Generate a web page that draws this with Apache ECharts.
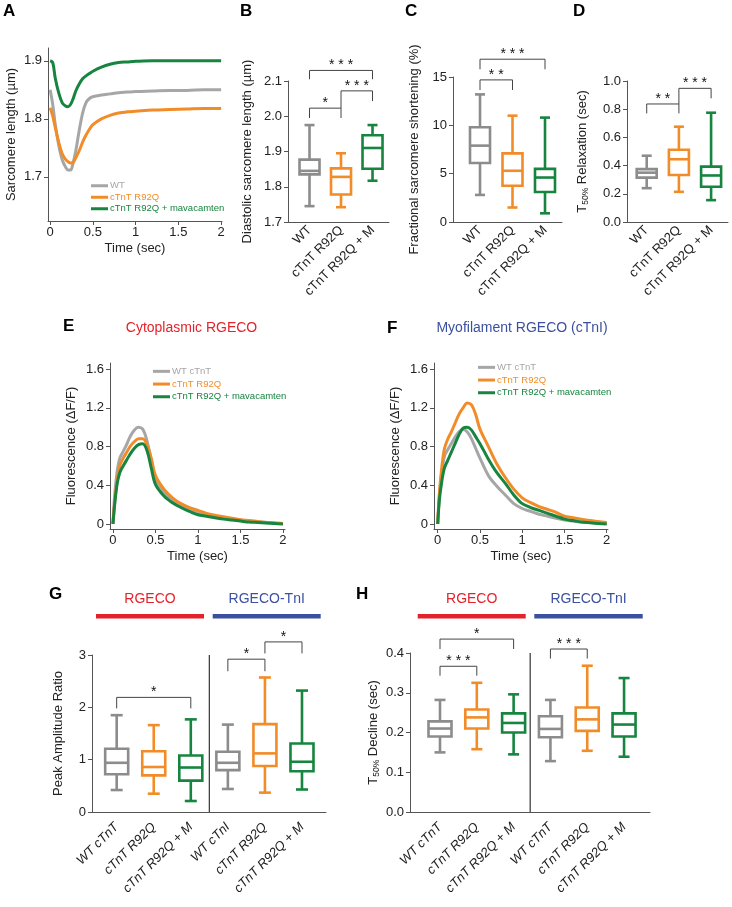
<!DOCTYPE html>
<html><head><meta charset="utf-8">
<script src="https://cdn.jsdelivr.net/npm/echarts@6/dist/echarts.min.js"></script>
<style>html,body{margin:0;padding:0;background:#fff}#c{width:732px;height:907px}</style>
</head><body><div id="c"></div>
<script>
// ================= DATA =================
// Panel A: sarcomere length transients (µm) vs time (sec)
const timeA = [0, 0.03, 0.06, 0.1, 0.14, 0.18, 0.21, 0.24, 0.27, 0.3, 0.34, 0.38, 0.42, 0.46, 0.5, 0.6, 0.7, 0.8, 0.9, 1.0, 1.2, 1.4, 1.6, 1.8, 2.0];
const slWT    = [1.85, 1.825, 1.79, 1.755, 1.73, 1.717, 1.712, 1.712, 1.725, 1.745, 1.78, 1.81, 1.828, 1.835, 1.838, 1.841, 1.843, 1.845, 1.846, 1.847, 1.848, 1.849, 1.849, 1.85, 1.85];
const slR92Q  = [1.819, 1.805, 1.785, 1.76, 1.74, 1.73, 1.726, 1.724, 1.725, 1.733, 1.745, 1.76, 1.772, 1.782, 1.79, 1.8, 1.806, 1.81, 1.812, 1.813, 1.815, 1.816, 1.817, 1.818, 1.818];
const slMava  = [1.9, 1.897, 1.87, 1.845, 1.828, 1.822, 1.821, 1.825, 1.835, 1.848, 1.86, 1.869, 1.874, 1.878, 1.882, 1.889, 1.894, 1.897, 1.898, 1.899, 1.9, 1.9, 1.9, 1.9, 1.9];
const legendA = ['WT', 'cTnT R92Q', 'cTnT R92Q + mavacamten'];

// Panels B-D: box stats [min, Q1, median, Q3, max]
const boxCats = ['WT', 'cTnT R92Q', 'cTnT R92Q + M'];
const diastolicSL = [[1.745, 1.835, 1.845, 1.877, 1.975], [1.742, 1.778, 1.828, 1.852, 1.895], [1.817, 1.851, 1.91, 1.946, 1.975]];
const fracShortening = [[2.8, 6.1, 7.9, 9.8, 13.2], [1.5, 3.75, 5.3, 7.1, 11.0], [0.9, 3.1, 4.6, 5.5, 10.8]];
const t50Relaxation = [[0.24, 0.315, 0.35, 0.375, 0.47], [0.214, 0.333, 0.445, 0.512, 0.676], [0.155, 0.25, 0.33, 0.393, 0.775]];
const sigB = [['*', 0, 1], ['***', 1, 2], ['***', 0, 2]];
const sigC = [['**', 0, 1], ['***', 0, 2]];
const sigD = [['**', 0, 1], ['***', 1, 2]];

// Panels E-F: fluorescence transients (ΔF/F) vs time (sec)
const timeEF = [0, 0.02, 0.05, 0.08, 0.12, 0.16, 0.2, 0.25, 0.3, 0.35, 0.4, 0.45, 0.5, 0.6, 0.7, 0.8, 0.9, 1.0, 1.1, 1.2, 1.3, 1.4, 1.5, 1.6, 1.7, 1.8, 1.9, 2.0];
const cytoWT   = [0, 0.3, 0.55, 0.68, 0.75, 0.82, 0.9, 0.97, 1.0, 0.98, 0.86, 0.66, 0.47, 0.33, 0.25, 0.19, 0.15, 0.12, 0.1, 0.08, 0.065, 0.05, 0.04, 0.03, 0.025, 0.018, 0.01, 0.005];
const cytoR92Q = [0, 0.22, 0.45, 0.6, 0.68, 0.74, 0.8, 0.85, 0.88, 0.88, 0.82, 0.68, 0.5, 0.36, 0.27, 0.21, 0.17, 0.14, 0.11, 0.09, 0.075, 0.06, 0.045, 0.035, 0.025, 0.015, 0.01, 0.005];
const cytoMava = [0, 0.2, 0.42, 0.53, 0.6, 0.66, 0.72, 0.78, 0.82, 0.83, 0.76, 0.58, 0.41, 0.29, 0.22, 0.17, 0.13, 0.095, 0.08, 0.065, 0.05, 0.04, 0.03, 0.02, 0.015, 0.01, 0.005, 0.0];
const myoWT    = [0, 0.3, 0.55, 0.7, 0.77, 0.83, 0.89, 0.95, 0.98, 0.95, 0.88, 0.78, 0.68, 0.5, 0.39, 0.3, 0.21, 0.16, 0.13, 0.1, 0.08, 0.06, 0.04, 0.03, 0.02, 0.015, 0.01, 0.005];
const myoR92Q  = [0, 0.32, 0.6, 0.78, 0.88, 0.95, 1.03, 1.13, 1.2, 1.25, 1.23, 1.13, 0.98, 0.8, 0.62, 0.48, 0.36, 0.27, 0.22, 0.18, 0.15, 0.12, 0.08, 0.065, 0.05, 0.035, 0.025, 0.015];
const myoMava  = [0, 0.25, 0.45, 0.58, 0.66, 0.74, 0.82, 0.92, 0.99, 1.0, 0.97, 0.9, 0.83, 0.67, 0.53, 0.42, 0.3, 0.21, 0.17, 0.14, 0.11, 0.08, 0.05, 0.035, 0.02, 0.012, 0.005, 0.0];
const legendEF = ['WT cTnT', 'cTnT R92Q', 'cTnT R92Q + mavacamten'];

// Panels G-H
const catsG = ['WT cTnT', 'cTnT R92Q', 'cTnT R92Q + M', 'WT cTnI', 'cTnT R92Q', 'cTnT R92Q + M'];
const catsH = ['WT cTnT', 'cTnT R92Q', 'cTnT R92Q + M', 'WT cTnT', 'cTnT R92Q', 'cTnT R92Q + M'];
const peakAmpRatio = [[0.42, 0.72, 0.94, 1.21, 1.85], [0.35, 0.70, 0.86, 1.16, 1.66], [0.21, 0.60, 0.85, 1.08, 1.77],
                      [0.44, 0.80, 0.94, 1.15, 1.67], [0.37, 0.88, 1.12, 1.68, 2.57], [0.43, 0.78, 0.96, 1.31, 2.32]];
const t50Decline = [[0.15, 0.19, 0.21, 0.228, 0.282], [0.158, 0.21, 0.238, 0.258, 0.325], [0.145, 0.2, 0.224, 0.248, 0.296],
                    [0.128, 0.188, 0.209, 0.241, 0.282], [0.154, 0.204, 0.233, 0.263, 0.368], [0.139, 0.19, 0.22, 0.248, 0.337]];
const sigG = [['*', 0, 2], ['*', 3, 4], ['*', 4, 5]];
const sigH = [['***', 0, 1], ['*', 0, 2], ['***', 3, 4]];
const groupLabels = ['RGECO', 'RGECO-TnI'];

// ================= STYLE / LAYOUT =================
const FONT = '"Liberation Sans", Arial, Helvetica, sans-serif';
const LGRAY = '#a6a6a6', BGRAY = '#8c8c8c', ORANGE = '#f28c28', GREEN = '#17843f';
const RED = '#e3232b', BLUE = '#3b50a0', AX = '#555', TXT = '#222';
const FS = 13;
const box3 = [BGRAY, ORANGE, GREEN];
const box6 = [BGRAY, ORANGE, GREEN, BGRAY, ORANGE, GREEN];

const grids = [
  {left: 48, top: 48, width: 174, height: 173},   // A
  {left: 288, top: 81, width: 101, height: 141},  // B
  {left: 453, top: 77, width: 109, height: 145},  // C
  {left: 627, top: 81, width: 101, height: 141},  // D
  {left: 110, top: 363, width: 175, height: 166}, // E
  {left: 434, top: 363, width: 174, height: 166}, // F
  {left: 92, top: 655, width: 234, height: 157},  // G
  {left: 410, top: 653, width: 240, height: 159}  // H
];

function lbl(extra) { return Object.assign({color: TXT, fontSize: FS, fontFamily: FONT, margin: 6}, extra); }
function axisBase(extra) {
  return Object.assign({
    type: 'value',
    splitLine: {show: false},
    axisLine: {show: true, onZero: false, lineStyle: {color: AX, width: 1}},
    axisTick: {show: true, inside: false, length: 4, lineStyle: {color: AX}},
    axisLabel: lbl({}),
    nameTextStyle: {color: TXT, fontSize: FS, fontFamily: FONT},
    nameLocation: 'middle'
  }, extra);
}
function fmtNum(v) { return v === 0 ? '0' : String(v); }
function tick(vals) { return {show: true, length: 4, customValues: vals, lineStyle: {color: AX}}; }

const timeTicks = [0, 0.5, 1, 1.5, 2];
const xAxes = [
  axisBase({gridIndex: 0, min: -0.025, max: 2.01, axisTick: tick(timeTicks), axisLabel: lbl({customValues: timeTicks, formatter: fmtNum, margin: 5}), name: 'Time (sec)', nameGap: 21}),
  axisBase({gridIndex: 1, min: -0.683, max: 2.523, axisTick: {show: false}, axisLabel: lbl({customValues: [0, 1, 2], formatter: v => boxCats[Math.round(v)], rotate: 45})}),
  axisBase({gridIndex: 2, min: -0.831, max: 2.523, axisTick: {show: false}, axisLabel: lbl({customValues: [0, 1, 2], formatter: v => boxCats[Math.round(v)], rotate: 45})}),
  axisBase({gridIndex: 3, min: -0.612, max: 2.525, axisTick: {show: false}, axisLabel: lbl({customValues: [0, 1, 2], formatter: v => boxCats[Math.round(v)], rotate: 45})}),
  axisBase({gridIndex: 4, min: -0.035, max: 2.024, axisTick: tick(timeTicks), axisLabel: lbl({customValues: timeTicks, formatter: fmtNum, margin: 5}), name: 'Time (sec)', nameGap: 21}),
  axisBase({gridIndex: 5, min: -0.044, max: 2.015, axisTick: tick(timeTicks), axisLabel: lbl({customValues: timeTicks, formatter: fmtNum, margin: 5}), name: 'Time (sec)', nameGap: 21}),
  axisBase({gridIndex: 6, min: -0.666, max: 5.648, axisTick: {show: false}, axisLabel: lbl({customValues: [0, 1, 2, 3, 4, 5], formatter: v => catsG[Math.round(v)], rotate: 45, fontStyle: 'italic', margin: 13})}),
  axisBase({gridIndex: 7, min: -0.815, max: 5.705, axisTick: {show: false}, axisLabel: lbl({customValues: [0, 1, 2, 3, 4, 5], formatter: v => catsH[Math.round(v)], rotate: 45, fontStyle: 'italic', margin: 13})})
];

const subRich = {s: {fontSize: 8.5, fontFamily: FONT, color: TXT, padding: [0, 0, -6, 0]}};
const efTicks = [0, 0.4, 0.8, 1.2, 1.6];
const yAxes = [
  axisBase({gridIndex: 0, min: 1.624, max: 1.922, axisTick: tick([1.7, 1.8, 1.9]), axisLabel: lbl({customValues: [1.7, 1.8, 1.9], formatter: v => v.toFixed(1)}), name: 'Sarcomere length (µm)', nameGap: 30}),
  axisBase({gridIndex: 1, min: 1.7, max: 2.1, interval: 0.1, axisLabel: lbl({formatter: v => v.toFixed(1)}), name: 'Diastolic sarcomere length (µm)', nameGap: 34}),
  axisBase({gridIndex: 2, min: 0, max: 15, interval: 5, name: 'Fractional sarcomere shortening (%)', nameGap: 32}),
  axisBase({gridIndex: 3, min: 0, max: 1.0, interval: 0.2, axisLabel: lbl({formatter: v => v.toFixed(1)}), name: 'T{s|50%} Relaxation (sec)', nameGap: 38, nameTextStyle: {color: TXT, fontSize: FS, fontFamily: FONT, rich: subRich}}),
  axisBase({gridIndex: 4, min: -0.052, max: 1.664, axisTick: tick(efTicks), axisLabel: lbl({customValues: efTicks, formatter: fmtNum}), name: 'Fluorescence (ΔF/F)', nameGap: 32}),
  axisBase({gridIndex: 5, min: -0.052, max: 1.664, axisTick: tick(efTicks), axisLabel: lbl({customValues: efTicks, formatter: fmtNum}), name: 'Fluorescence (ΔF/F)', nameGap: 32}),
  axisBase({gridIndex: 6, min: 0, max: 3, interval: 1, name: 'Peak Amplitude Ratio', nameGap: 27}),
  axisBase({gridIndex: 7, min: 0, max: 0.4, interval: 0.1, axisLabel: lbl({formatter: v => v.toFixed(1)}), name: 'T{s|50%} Decline (sec)', nameGap: 30, nameTextStyle: {color: TXT, fontSize: FS, fontFamily: FONT, rich: subRich}})
];

// ---------- series builders ----------
function lineSeries(idx, name, xs, ys, color) {
  return {type: 'line', name: name, xAxisIndex: idx, yAxisIndex: idx, data: xs.map((x, i) => [x, ys[i]]),
    showSymbol: false, smooth: 0.35, color: color, lineStyle: {width: 3, color: color}, silent: true, z: color === GREEN ? 4 : 3};
}
function boxSeries(idx, stats, colors, bw, cw) {
  return {type: 'custom', xAxisIndex: idx, yAxisIndex: idx, clip: false, silent: true,
    encode: {x: 0, y: [1, 2, 3, 4, 5]},
    data: stats.map((s, i) => [i].concat(s)),
    renderItem: function (params, api) {
      const i = api.value(0);
      const c = v => api.coord([i, v]);
      const pMin = c(api.value(1)), pQ1 = c(api.value(2)), pMed = c(api.value(3)), pQ3 = c(api.value(4)), pMax = c(api.value(5));
      const x = pMin[0];
      const st = {stroke: colors[params.dataIndex], lineWidth: 2.6, fill: null};
      const L = (x1, y1, x2, y2) => ({type: 'line', shape: {x1, y1, x2, y2}, style: st});
      return {type: 'group', children: [
        L(x, pMin[1], x, pQ1[1]), L(x, pQ3[1], x, pMax[1]),
        L(x - cw / 2, pMin[1], x + cw / 2, pMin[1]), L(x - cw / 2, pMax[1], x + cw / 2, pMax[1]),
        {type: 'rect', shape: {x: x - bw / 2, y: pQ3[1], width: bw, height: pQ1[1] - pQ3[1]}, style: {stroke: colors[params.dataIndex], lineWidth: 2.6, fill: '#fff'}},
        L(x - bw / 2, pMed[1], x + bw / 2, pMed[1])
      ]};
    }};
}
// layout: per bracket [top, leftLegBottom, rightLegBottom] in axis units
function sigSeries(idx, sig, layout) {
  return {type: 'custom', xAxisIndex: idx, yAxisIndex: idx, clip: false, silent: true, z: 5,
    encode: {x: [0, 1], y: [2, 3, 4]},
    data: sig.map((s, k) => [s[1], s[2]].concat(layout[k])),
    renderItem: function (params, api) {
      const a = api.coord([api.value(0), api.value(3)]);
      const b = api.coord([api.value(0), api.value(2)]);
      const c = api.coord([api.value(1), api.value(2)]);
      const d = api.coord([api.value(1), api.value(4)]);
      const label = sig[params.dataIndex][0].split('').join(' ');
      return {type: 'group', children: [
        {type: 'polyline', shape: {points: [a, b, c, d]}, style: {stroke: '#444', lineWidth: 1, fill: null}},
        {type: 'text', x: (b[0] + c[0]) / 2, y: b[1] + 2, style: {text: label, align: 'center', verticalAlign: 'bottom', fontSize: 14, fontFamily: FONT, fill: '#111'}}
      ]};
    }};
}
function dividerSeries(idx, xv, top) {
  return {type: 'custom', xAxisIndex: idx, yAxisIndex: idx, clip: false, silent: true,
    data: [[xv, top]],
    renderItem: function (params, api) {
      const p0 = api.coord([api.value(0), 0]);
      const p1 = api.coord([api.value(0), api.value(1)]);
      return {type: 'line', shape: {x1: p0[0], y1: p0[1], x2: p1[0], y2: p1[1]}, style: {stroke: '#333', lineWidth: 1.2}};
    }};
}

const series = [
  lineSeries(0, legendA[0], timeA, slWT, LGRAY),
  lineSeries(0, legendA[1], timeA, slR92Q, ORANGE),
  lineSeries(0, legendA[2], timeA, slMava, GREEN),
  boxSeries(1, diastolicSL, box3, 20, 10),
  boxSeries(2, fracShortening, box3, 20, 10),
  boxSeries(3, t50Relaxation, box3, 20, 10),
  sigSeries(1, sigB, [[2.023, 1.995, 1.995], [2.072, 2.023, 2.043], [2.13, 2.105, 2.105]]),
  sigSeries(2, sigC, [[14.7, 13.66, 13.66], [16.84, 15.8, 15.8]]),
  sigSeries(3, sigD, [[0.837, 0.77, 0.77], [0.948, 0.837, 0.877]]),
  lineSeries(4, legendEF[0], timeEF, cytoWT, LGRAY),
  lineSeries(4, legendEF[1], timeEF, cytoR92Q, ORANGE),
  lineSeries(4, legendEF[2], timeEF, cytoMava, GREEN),
  lineSeries(5, legendEF[0], timeEF, myoWT, LGRAY),
  lineSeries(5, legendEF[1], timeEF, myoR92Q, ORANGE),
  lineSeries(5, legendEF[2], timeEF, myoMava, GREEN),
  boxSeries(6, peakAmpRatio, box6, 23, 12),
  boxSeries(7, t50Decline, box6, 23, 11),
  sigSeries(6, sigG, [[2.19, 1.98, 1.98], [2.92, 2.69, 2.69], [3.25, 3.03, 3.03]]),
  sigSeries(7, sigH, [[0.3666, 0.343, 0.343], [0.435, 0.41, 0.41], [0.41, 0.386, 0.386]]),
  dividerSeries(6, 2.5, 3),
  dividerSeries(7, 2.45, 0.4)
];

function legendCfg(left, top, names, rowH) {
  const cols = [LGRAY, ORANGE, GREEN];
  return {left: left, top: top, orient: 'vertical', icon: 'rect', itemWidth: 17, itemHeight: 3, itemGap: 0,
    selectedMode: false,
    textStyle: {fontSize: 9.5, fontFamily: FONT, lineHeight: rowH, padding: [0, 0, 0, -3]},
    data: names.map((n, i) => ({name: n, textStyle: {color: cols[i]}}))};
}

function txt(x, y, s, opt) {
  return {type: 'text', x: x, y: y, style: Object.assign({text: s, fontFamily: FONT, fill: '#000'}, opt)};
}
const letterStyle = {fontSize: 17, fontWeight: 'bold', align: 'left', verticalAlign: 'top'};
const graphic = [
  txt(3, 3, 'A', letterStyle), txt(240, 3, 'B', letterStyle), txt(405, 3, 'C', letterStyle), txt(573, 3, 'D', letterStyle),
  txt(63, 318, 'E', letterStyle), txt(387, 320, 'F', letterStyle), txt(49, 586, 'G', letterStyle), txt(356, 586, 'H', letterStyle),
  txt(191.5, 328, 'Cytoplasmic RGECO', {fontSize: 14, fill: RED, align: 'center', verticalAlign: 'middle'}),
  txt(522, 328, 'Myofilament RGECO (cTnI)', {fontSize: 14, fill: BLUE, align: 'center', verticalAlign: 'middle'}),
  txt(150, 599, groupLabels[0], {fontSize: 14, fill: RED, align: 'center', verticalAlign: 'middle'}),
  txt(266.7, 599, groupLabels[1], {fontSize: 14, fill: BLUE, align: 'center', verticalAlign: 'middle'}),
  txt(471.7, 599, groupLabels[0], {fontSize: 14, fill: RED, align: 'center', verticalAlign: 'middle'}),
  txt(588.5, 599, groupLabels[1], {fontSize: 14, fill: BLUE, align: 'center', verticalAlign: 'middle'}),
  {type: 'rect', shape: {x: 96, y: 614, width: 108, height: 4.5}, style: {fill: RED}},
  {type: 'rect', shape: {x: 212.7, y: 614, width: 108, height: 4.5}, style: {fill: BLUE}},
  {type: 'rect', shape: {x: 417.7, y: 614, width: 108, height: 4.5}, style: {fill: RED}},
  {type: 'rect', shape: {x: 534.3, y: 614, width: 108.4, height: 4.5}, style: {fill: BLUE}}
];

const chart = echarts.init(document.getElementById('c'), null, {renderer: 'canvas', width: 732, height: 907});
chart.setOption({
  animation: false,
  backgroundColor: '#fff',
  textStyle: {fontFamily: FONT},
  grid: grids,
  xAxis: xAxes,
  yAxis: yAxes,
  legend: [legendCfg(86, 175, legendA, 11.5), legendCfg(148, 360, legendEF, 12.7), legendCfg(473, 356, legendEF, 12.7)],
  series: series,
  graphic: graphic
});
</script>
</body></html>
